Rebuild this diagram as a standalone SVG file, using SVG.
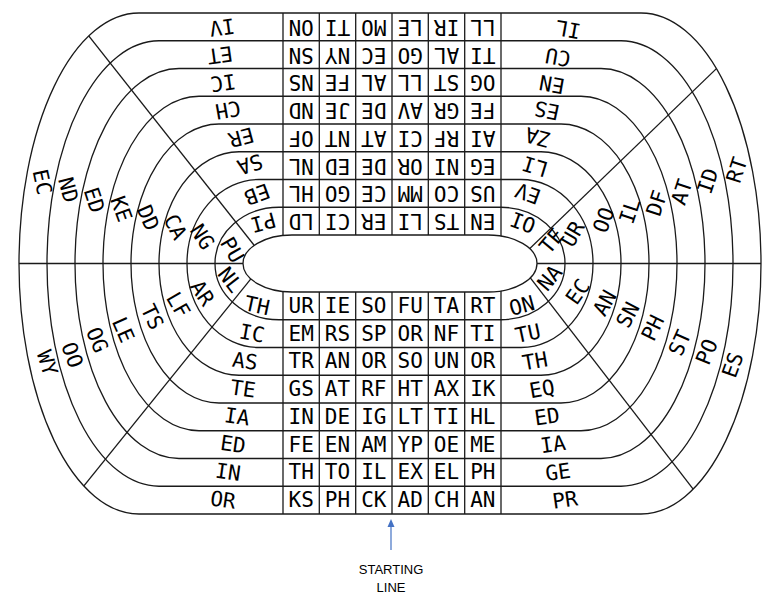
<svg xmlns="http://www.w3.org/2000/svg" width="782" height="602" viewBox="0 0 782 602">
<style>
.ln{fill:none;stroke:#1a1a1a;stroke-width:1.3}
.t{font-family:"DejaVu Sans Mono",monospace;font-size:21px;text-anchor:middle;dominant-baseline:central;fill:#000}
.s{font-family:"Liberation Sans",Arial,sans-serif;font-size:13px;text-anchor:middle;fill:#000}
</style>
<defs>
<clipPath id="outerClip"><path d="M139,13 H641 A120,250.5 0 0 1 761,263.5 A120,250.5 0 0 1 641,514 H139 A120,250.5 0 0 1 19,263.5 A120,250.5 0 0 1 139,13 Z"/></clipPath>
</defs>
<rect width="782" height="602" fill="#fff"/>
<g id="connectors">
<g clip-path="url(#outerClip)">
<line class="ln" x1="0" y1="263.5" x2="782" y2="263.5"/>
<line class="ln" x1="60" y1="-0.5" x2="270" y2="265.4"/>
<line class="ln" x1="760" y1="26.6" x2="510" y2="267.6"/>
<line class="ln" x1="50" y1="527.9" x2="270" y2="255.2"/>
<line class="ln" x1="730" y1="536.9" x2="512" y2="254.1"/>
</g>
<g id="columns">
<line class="ln" x1="283" y1="13" x2="283" y2="514"/>
<line class="ln" x1="319.3" y1="13" x2="319.3" y2="514"/>
<line class="ln" x1="355.7" y1="13" x2="355.7" y2="514"/>
<line class="ln" x1="392" y1="13" x2="392" y2="514"/>
<line class="ln" x1="428.3" y1="13" x2="428.3" y2="514"/>
<line class="ln" x1="464.7" y1="13" x2="464.7" y2="514"/>
<line class="ln" x1="501" y1="13" x2="501" y2="514"/>
</g>
</g>
<g id="lanes">
<path class="ln" d="M139,13 H641 A120,250.5 0 0 1 761,263.5 A120,250.5 0 0 1 641,514 H139 A120,250.5 0 0 1 19,263.5 A120,250.5 0 0 1 139,13 Z"/>
<path class="ln" d="M159,40.75 H621 A112,222.75 0 0 1 733,263.5 A112,222.75 0 0 1 621,486.25 H159 A112,222.75 0 0 1 47,263.5 A112,222.75 0 0 1 159,40.75 Z"/>
<path class="ln" d="M179,68.5 H601 A104,195 0 0 1 705,263.5 A104,195 0 0 1 601,458.5 H179 A104,195 0 0 1 75,263.5 A104,195 0 0 1 179,68.5 Z"/>
<path class="ln" d="M199,96.25 H581 A96,167.25 0 0 1 677,263.5 A96,167.25 0 0 1 581,430.75 H199 A96,167.25 0 0 1 103,263.5 A96,167.25 0 0 1 199,96.25 Z"/>
<path class="ln" d="M219,124 H561 A88,139.5 0 0 1 649,263.5 A88,139.5 0 0 1 561,403 H219 A88,139.5 0 0 1 131,263.5 A88,139.5 0 0 1 219,124 Z"/>
<path class="ln" d="M239,151.75 H541 A80,111.75 0 0 1 621,263.5 A80,111.75 0 0 1 541,375.25 H239 A80,111.75 0 0 1 159,263.5 A80,111.75 0 0 1 239,151.75 Z"/>
<path class="ln" d="M259,179.5 H521 A72,84 0 0 1 593,263.5 A72,84 0 0 1 521,347.5 H259 A72,84 0 0 1 187,263.5 A72,84 0 0 1 259,179.5 Z"/>
<path class="ln" d="M279,207.25 H501 A64,56.25 0 0 1 565,263.5 A64,56.25 0 0 1 501,319.75 H279 A64,56.25 0 0 1 215,263.5 A64,56.25 0 0 1 279,207.25 Z"/>
<path id="infield" d="M292,235 H488 A49,28.5 0 0 1 537,263.5 A49,28.5 0 0 1 488,292 H292 A49,28.5 0 0 1 243,263.5 A49,28.5 0 0 1 292,235 Z" fill="#fff" stroke="#1a1a1a" stroke-width="1.3"/>
</g>
<g id="top-grid">
<text class="t" transform="translate(301.2,26.9) rotate(180)">ON</text><text class="t" transform="translate(337.5,26.9) rotate(180)">TI</text><text class="t" transform="translate(373.8,26.9) rotate(180)">MO</text><text class="t" transform="translate(410.2,26.9) rotate(180)">LE</text><text class="t" transform="translate(446.5,26.9) rotate(180)">IR</text><text class="t" transform="translate(482.8,26.9) rotate(180)">LL</text>
<text class="t" transform="translate(301.2,54.6) rotate(180)">SN</text><text class="t" transform="translate(337.5,54.6) rotate(180)">NY</text><text class="t" transform="translate(373.8,54.6) rotate(180)">EC</text><text class="t" transform="translate(410.2,54.6) rotate(180)">GO</text><text class="t" transform="translate(446.5,54.6) rotate(180)">AL</text><text class="t" transform="translate(482.8,54.6) rotate(180)">TI</text>
<text class="t" transform="translate(301.2,82.4) rotate(180)">NS</text><text class="t" transform="translate(337.5,82.4) rotate(180)">FE</text><text class="t" transform="translate(373.8,82.4) rotate(180)">AL</text><text class="t" transform="translate(410.2,82.4) rotate(180)">LL</text><text class="t" transform="translate(446.5,82.4) rotate(180)">ST</text><text class="t" transform="translate(482.8,82.4) rotate(180)">OG</text>
<text class="t" transform="translate(301.2,110.1) rotate(180)">ND</text><text class="t" transform="translate(337.5,110.1) rotate(180)">JE</text><text class="t" transform="translate(373.8,110.1) rotate(180)">DE</text><text class="t" transform="translate(410.2,110.1) rotate(180)">AV</text><text class="t" transform="translate(446.5,110.1) rotate(180)">GR</text><text class="t" transform="translate(482.8,110.1) rotate(180)">FE</text>
<text class="t" transform="translate(301.2,137.9) rotate(180)">OF</text><text class="t" transform="translate(337.5,137.9) rotate(180)">NT</text><text class="t" transform="translate(373.8,137.9) rotate(180)">AT</text><text class="t" transform="translate(410.2,137.9) rotate(180)">CI</text><text class="t" transform="translate(446.5,137.9) rotate(180)">RF</text><text class="t" transform="translate(482.8,137.9) rotate(180)">AI</text>
<text class="t" transform="translate(301.2,165.6) rotate(180)">NL</text><text class="t" transform="translate(337.5,165.6) rotate(180)">ED</text><text class="t" transform="translate(373.8,165.6) rotate(180)">DE</text><text class="t" transform="translate(410.2,165.6) rotate(180)">OR</text><text class="t" transform="translate(446.5,165.6) rotate(180)">NI</text><text class="t" transform="translate(482.8,165.6) rotate(180)">EG</text>
<text class="t" transform="translate(301.2,193.4) rotate(180)">HL</text><text class="t" transform="translate(337.5,193.4) rotate(180)">GO</text><text class="t" transform="translate(373.8,193.4) rotate(180)">CE</text><text class="t" transform="translate(410.2,193.4) rotate(180)">MM</text><text class="t" transform="translate(446.5,193.4) rotate(180)">CO</text><text class="t" transform="translate(482.8,193.4) rotate(180)">US</text>
<text class="t" transform="translate(301.2,221.1) rotate(180)">LD</text><text class="t" transform="translate(337.5,221.1) rotate(180)">CI</text><text class="t" transform="translate(373.8,221.1) rotate(180)">ER</text><text class="t" transform="translate(410.2,221.1) rotate(180)">LI</text><text class="t" transform="translate(446.5,221.1) rotate(180)">TS</text><text class="t" transform="translate(482.8,221.1) rotate(180)">EN</text>
</g>
<g id="bottom-grid">
<text class="t" x="301.2" y="305.9">UR</text><text class="t" x="337.5" y="305.9">IE</text><text class="t" x="373.8" y="305.9">SO</text><text class="t" x="410.2" y="305.9">FU</text><text class="t" x="446.5" y="305.9">TA</text><text class="t" x="482.8" y="305.9">RT</text>
<text class="t" x="301.2" y="333.6">EM</text><text class="t" x="337.5" y="333.6">RS</text><text class="t" x="373.8" y="333.6">SP</text><text class="t" x="410.2" y="333.6">OR</text><text class="t" x="446.5" y="333.6">NF</text><text class="t" x="482.8" y="333.6">TI</text>
<text class="t" x="301.2" y="361.4">TR</text><text class="t" x="337.5" y="361.4">AN</text><text class="t" x="373.8" y="361.4">OR</text><text class="t" x="410.2" y="361.4">SO</text><text class="t" x="446.5" y="361.4">UN</text><text class="t" x="482.8" y="361.4">OR</text>
<text class="t" x="301.2" y="389.1">GS</text><text class="t" x="337.5" y="389.1">AT</text><text class="t" x="373.8" y="389.1">RF</text><text class="t" x="410.2" y="389.1">HT</text><text class="t" x="446.5" y="389.1">AX</text><text class="t" x="482.8" y="389.1">IK</text>
<text class="t" x="301.2" y="416.9">IN</text><text class="t" x="337.5" y="416.9">DE</text><text class="t" x="373.8" y="416.9">IG</text><text class="t" x="410.2" y="416.9">LT</text><text class="t" x="446.5" y="416.9">TI</text><text class="t" x="482.8" y="416.9">HL</text>
<text class="t" x="301.2" y="444.6">FE</text><text class="t" x="337.5" y="444.6">EN</text><text class="t" x="373.8" y="444.6">AM</text><text class="t" x="410.2" y="444.6">YP</text><text class="t" x="446.5" y="444.6">OE</text><text class="t" x="482.8" y="444.6">ME</text>
<text class="t" x="301.2" y="472.4">TH</text><text class="t" x="337.5" y="472.4">TO</text><text class="t" x="373.8" y="472.4">IL</text><text class="t" x="410.2" y="472.4">EX</text><text class="t" x="446.5" y="472.4">EL</text><text class="t" x="482.8" y="472.4">PH</text>
<text class="t" x="301.2" y="500.1">KS</text><text class="t" x="337.5" y="500.1">PH</text><text class="t" x="373.8" y="500.1">CK</text><text class="t" x="410.2" y="500.1">AD</text><text class="t" x="446.5" y="500.1">CH</text><text class="t" x="482.8" y="500.1">AN</text>
</g>
<g id="top-left-curve">
<text class="t" transform="translate(222,27) rotate(172)">IV</text>
<text class="t" transform="translate(220,54.6) rotate(172)">ET</text>
<text class="t" transform="translate(223,82.4) rotate(172)">IC</text>
<text class="t" transform="translate(228,109.5) rotate(170)">CH</text>
<text class="t" transform="translate(241,137) rotate(165)">ER</text>
<text class="t" transform="translate(250,164) rotate(162)">SA</text>
<text class="t" transform="translate(257,194) rotate(160)">EB</text>
<text class="t" transform="translate(263,222) rotate(165)">PI</text>
</g>
<g id="upper-left-curve">
<text class="t" transform="translate(42,182) rotate(78)">EC</text>
<text class="t" transform="translate(68,190) rotate(75)">ND</text>
<text class="t" transform="translate(94,200) rotate(72)">ED</text>
<text class="t" transform="translate(121,209) rotate(70)">KE</text>
<text class="t" transform="translate(148,218) rotate(66)">DD</text>
<text class="t" transform="translate(175,227) rotate(62)">CA</text>
<text class="t" transform="translate(202,237) rotate(57)">NG</text>
<text class="t" transform="translate(232,250) rotate(60)">PU</text>
</g>
<g id="lower-left-curve">
<text class="t" transform="translate(47,363) rotate(72)">WY</text>
<text class="t" transform="translate(72,355) rotate(70)">OO</text>
<text class="t" transform="translate(97,340) rotate(68)">OG</text>
<text class="t" transform="translate(123,330) rotate(66)">LE</text>
<text class="t" transform="translate(152,317) rotate(64)">TS</text>
<text class="t" transform="translate(178,305) rotate(60)">LF</text>
<text class="t" transform="translate(202,293) rotate(56)">AR</text>
<text class="t" transform="translate(230,280) rotate(52)">NL</text>
</g>
<g id="bottom-left-curve">
<text class="t" transform="translate(223,500.1) rotate(8)">OR</text>
<text class="t" transform="translate(228,472.4) rotate(8)">IN</text>
<text class="t" transform="translate(233,444.6) rotate(8)">ED</text>
<text class="t" transform="translate(237,416.9) rotate(8)">IA</text>
<text class="t" transform="translate(243,389.1) rotate(8)">TE</text>
<text class="t" transform="translate(245,361.4) rotate(8)">AS</text>
<text class="t" transform="translate(252,333.6) rotate(10)">IC</text>
<text class="t" transform="translate(257,305.9) rotate(12)">TH</text>
</g>
<g id="bottom-right-curve">
<text class="t" transform="translate(522,305.9) rotate(-15)">ON</text>
<text class="t" transform="translate(528,333.6) rotate(-12)">TU</text>
<text class="t" transform="translate(535,361.4) rotate(-10)">TH</text>
<text class="t" transform="translate(542,389.1) rotate(-10)">EQ</text>
<text class="t" transform="translate(547,416.9) rotate(-8)">ED</text>
<text class="t" transform="translate(553,444.6) rotate(-8)">IA</text>
<text class="t" transform="translate(558,472.4) rotate(-8)">GE</text>
<text class="t" transform="translate(565,500.1) rotate(-8)">PR</text>
</g>
<g id="lower-right-curve">
<text class="t" transform="translate(550,278) rotate(-50)">NA</text>
<text class="t" transform="translate(578,292) rotate(-55)">EC</text>
<text class="t" transform="translate(605,303) rotate(-60)">AN</text>
<text class="t" transform="translate(628,315) rotate(-62)">SN</text>
<text class="t" transform="translate(653,328) rotate(-64)">PH</text>
<text class="t" transform="translate(680,343) rotate(-66)">ST</text>
<text class="t" transform="translate(707,352) rotate(-68)">PO</text>
<text class="t" transform="translate(733,365) rotate(-70)">ES</text>
</g>
<g id="upper-right-curve">
<text class="t" transform="translate(552,241) rotate(-50)">TE</text>
<text class="t" transform="translate(573,234) rotate(-60)">UR</text>
<text class="t" transform="translate(604,220) rotate(-70)">OO</text>
<text class="t" transform="translate(630,211) rotate(-72)">IL</text>
<text class="t" transform="translate(657,203) rotate(-72)">DF</text>
<text class="t" transform="translate(682,192) rotate(-72)">AT</text>
<text class="t" transform="translate(708,181) rotate(-72)">ID</text>
<text class="t" transform="translate(737,170) rotate(-72)">RT</text>
</g>
<g id="top-right-curve">
<text class="t" transform="translate(568,29) rotate(190)">IL</text>
<text class="t" transform="translate(558,57) rotate(190)">CU</text>
<text class="t" transform="translate(552,84) rotate(190)">EN</text>
<text class="t" transform="translate(547,110) rotate(192)">ES</text>
<text class="t" transform="translate(538,137) rotate(195)">ZA</text>
<text class="t" transform="translate(535,166) rotate(197)">LI</text>
<text class="t" transform="translate(528,193) rotate(200)">EV</text>
<text class="t" transform="translate(523,222) rotate(200)">OI</text>
</g>
<g id="starting-line">
<line x1="391" y1="550" x2="391" y2="526" stroke="#4472C4" stroke-width="1.2"/>
<polygon points="391,519 387.5,527 394.5,527" fill="#4472C4"/>
<text class="s" x="391" y="574">STARTING</text>
<text class="s" x="391" y="592">LINE</text>
</g>
</svg>
